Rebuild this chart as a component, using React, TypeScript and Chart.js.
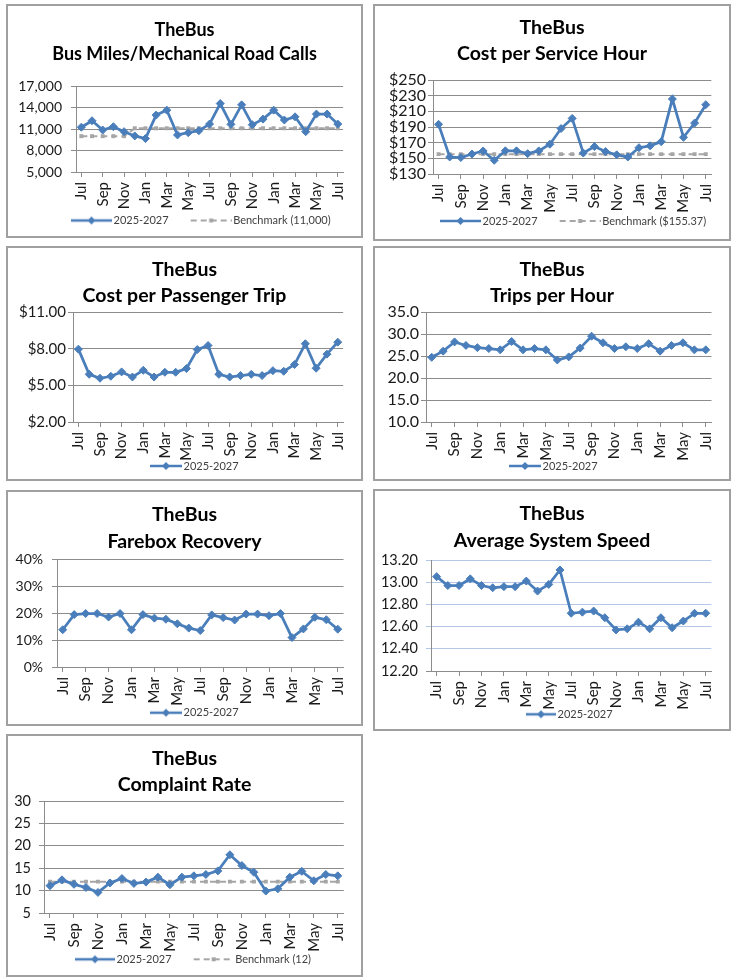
import React, { useEffect, useRef } from "react";
import { Chart, registerables } from "chart.js";

Chart.register(...registerables);

// ── Data ──────────────────────────────────────────────────────
const months = [
  "Jul", "Aug", "Sep", "Oct", "Nov", "Dec", "Jan", "Feb", "Mar", "Apr", "May", "Jun",
  "Jul", "Aug", "Sep", "Oct", "Nov", "Dec", "Jan", "Feb", "Mar", "Apr", "May", "Jun", "Jul",
];

const busMiles = [
  11250, 12150, 10860, 11320, 10630, 10030, 9660, 12940, 13630, 10170, 10490, 10770,
  11690, 14550, 11650, 14370, 11600, 12380, 13630, 12250, 12700, 10630, 13080, 13080, 11690,
];
const busMilesBenchmark = [
  10000, 10000, 10000, 10000, 10000, 11100, 11100, 11100, 11100, 11100, 11100, 11100,
  11100, 11100, 11100, 11100, 11100, 11100, 11100, 11100, 11100, 11100, 11100, 11100, 11100,
];
const busMilesTicks = [5000, 8000, 11000, 14000, 17000];

const costPerHour = [
  193.4, 151.7, 151, 155.5, 159.4, 147.5, 159.6, 159.6, 156, 159.5, 168, 188,
  201, 156.8, 165, 158.7, 154.5, 151.7, 163.6, 166, 171.3, 225.7, 176.8, 195, 218.5,
];
const costPerHourBenchmark = [
  155.37, 155.37, 155.37, 155.37, 155.37, 155.37, 155.37, 155.37, 155.37, 155.37, 155.37, 155.37,
  155.37, 155.37, 155.37, 155.37, 155.37, 155.37, 155.37, 155.37, 155.37, 155.37, 155.37, 155.37, 155.37,
];
const costPerHourTicks = [130, 150, 170, 190, 210, 230, 250];

const costPerTrip = [
  7.96, 5.9, 5.58, 5.74, 6.1, 5.68, 6.23, 5.68, 6.07, 6.07, 6.37, 7.93,
  8.26, 5.9, 5.68, 5.8, 5.9, 5.8, 6.2, 6.15, 6.7, 8.4, 6.4, 7.55, 8.53,
];
const costPerTripTicks = [2, 5, 8, 11];

const tripsPerHour = [
  24.7, 26.1, 28.2, 27.4, 26.9, 26.7, 26.4, 28.3, 26.4, 26.7, 26.4, 24.1,
  24.8, 26.8, 29.5, 28.0, 26.7, 27.1, 26.7, 27.8, 26.1, 27.4, 28.0, 26.4, 26.4,
];
const tripsPerHourTicks = [10, 15, 20, 25, 30, 35];

const fareboxRecovery = [
  13.8, 19.4, 19.8, 19.8, 18.5, 19.8, 13.8, 19.4, 18.1, 17.7, 16.0, 14.4,
  13.5, 19.3, 18.3, 17.4, 19.6, 19.6, 19.0, 19.8, 10.9, 14.1, 18.4, 17.5, 14.0,
];
const fareboxTicks = [0, 10, 20, 30, 40];

const avgSpeed = [
  13.05, 12.97, 12.97, 13.03, 12.97, 12.95, 12.96, 12.96, 13.01, 12.92, 12.98, 13.11,
  12.72, 12.73, 12.74, 12.68, 12.57, 12.58, 12.64, 12.58, 12.68, 12.59, 12.65, 12.72, 12.72,
];
const avgSpeedTicks = [12.2, 12.4, 12.6, 12.8, 13.0, 13.2];

const complaintRate = [
  11.1, 12.4, 11.4, 10.7, 9.6, 11.7, 12.7, 11.6, 11.9, 13.0, 11.3, 13.0,
  13.3, 13.6, 14.4, 18.0, 15.6, 14.1, 9.9, 10.4, 13.0, 14.3, 12.2, 13.6, 13.3,
];
const complaintBenchmark = [
  12, 12, 12, 12, 12, 12, 12, 12, 12, 12, 12, 12,
  12, 12, 12, 12, 12, 12, 12, 12, 12, 12, 12, 12, 12,
];
const complaintTicks = [5, 10, 15, 20, 25, 30];

// ── Style ─────────────────────────────────────────────────────
const LINE_BLUE = "#4a7ebb";
const BENCH_GRAY = "#a6a6a6";
const GRID_GRAY = "#8c8c8c";
const GRID_BLUE = "#b4c7e7";
const FONT = "Lato, 'Open Sans', sans-serif";
const LEGEND_SIZE = 11;
const LEGEND_PAD = 0;
const ICON_MARGIN = 22;

interface PanelSpec {
  subtitle: string;
  box: number[];   // left, top, right, bottom on the page
  plot: number[];  // left, top, right, bottom inside the canvas
  titleSize: number;
  titleBase: number;
  titleGap: number;
  legendY: number;
  legendX: number;
  tickSize: number;
  tickPad: number;
  yTicks: number[];
  fmt: (v: number) => string;
  series: number[];
  benchmark?: number[];
  benchLabel?: string;
  blueGrid?: boolean;
  iconLen: number;
}

const money0 = (v: number) => "$" + v.toFixed(0);
const money2 = (v: number) => "$" + v.toFixed(2);

const panels: PanelSpec[] = [
  {
    subtitle: "Bus Miles/Mechanical Road Calls",
    box: [6, 4, 363, 238], plot: [68, 80, 342, 166],
    titleSize: 18, titleBase: 31.5, titleGap: 24, legendY: 214.5, legendX: 63, tickSize: 14, tickPad: 9,
    yTicks: busMilesTicks, fmt: (v) => v.toLocaleString("en-US"),
    series: busMiles, benchmark: busMilesBenchmark, benchLabel: "Benchmark (11,000)", iconLen: 41,
  },
  {
    subtitle: "Cost per Service Hour",
    box: [373, 4, 731, 241], plot: [58, 74, 342, 168],
    titleSize: 19.5, titleBase: 29, titleGap: 26, legendY: 215, legendX: 65, tickSize: 16, tickPad: 2,
    yTicks: costPerHourTicks, fmt: money0,
    series: costPerHour, benchmark: costPerHourBenchmark, benchLabel: "Benchmark ($155.37)", iconLen: 41,
  },
  {
    subtitle: "Cost per Passenger Trip",
    box: [6, 246, 363, 481], plot: [65, 64, 340, 174],
    titleSize: 19.5, titleBase: 29, titleGap: 26, legendY: 218, legendX: 142, tickSize: 15, tickPad: 2,
    yTicks: costPerTripTicks, fmt: money2,
    series: costPerTrip, iconLen: 32,
  },
  {
    subtitle: "Trips per Hour",
    box: [373, 246, 731, 481], plot: [51, 64, 343, 174],
    titleSize: 19.5, titleBase: 29, titleGap: 26, legendY: 218, legendX: 134, tickSize: 16, tickPad: 2,
    yTicks: tripsPerHourTicks, fmt: (v) => v.toFixed(1),
    series: tripsPerHour, iconLen: 32,
  },
  {
    subtitle: "Farebox Recovery",
    box: [6, 490, 363, 726], plot: [49, 67, 342, 175],
    titleSize: 19.5, titleBase: 30.5, titleGap: 27, legendY: 220.7, legendX: 142, tickSize: 14, tickPad: 9,
    yTicks: fareboxTicks, fmt: (v) => v.toFixed(0) + "%",
    series: fareboxRecovery, iconLen: 32,
  },
  {
    subtitle: "Average System Speed",
    box: [373, 489, 731, 731], plot: [56, 69, 342, 180],
    titleSize: 19.5, titleBase: 30.2, titleGap: 27, legendY: 223.3, legendX: 151, tickSize: 14.5, tickPad: 8,
    yTicks: avgSpeedTicks, fmt: (v) => v.toFixed(2),
    series: avgSpeed, blueGrid: true, iconLen: 30,
  },
  {
    subtitle: "Complaint Rate",
    box: [6, 734, 363, 977], plot: [36, 65, 342, 177],
    titleSize: 19.5, titleBase: 29.8, titleGap: 26.7, legendY: 223.3, legendX: 67, tickSize: 14.5, tickPad: 8,
    yTicks: complaintTicks, fmt: (v) => v.toFixed(0),
    series: complaintRate, benchmark: complaintBenchmark, benchLabel: "Benchmark (12)", iconLen: 40,
  },
];

// ── Legend icon (line + marker) ───────────────────────────────
function legendIcon(kind: "series" | "bench", lineLen: number): HTMLCanvasElement {
  const boxW = ICON_MARGIN + lineLen - 4;
  const c = document.createElement("canvas");
  c.width = boxW + 8;
  c.height = 10;
  const ctx = c.getContext("2d")!;
  const x0 = ICON_MARGIN + 4, x1 = c.width, cy = 5;
  const cx = (x0 + x1) / 2;
  const color = kind === "series" ? LINE_BLUE : BENCH_GRAY;
  ctx.strokeStyle = color;
  ctx.fillStyle = color;
  ctx.lineWidth = kind === "series" ? 2.5 : 2;
  if (kind === "bench") ctx.setLineDash([6, 4]);
  ctx.beginPath();
  ctx.moveTo(x0, cy);
  ctx.lineTo(x1, cy);
  ctx.stroke();
  ctx.setLineDash([]);
  ctx.beginPath();
  if (kind === "series") {
    ctx.moveTo(cx, cy - 4);
    ctx.lineTo(cx + 4, cy);
    ctx.lineTo(cx, cy + 4);
    ctx.lineTo(cx - 4, cy);
    ctx.closePath();
  } else {
    ctx.rect(cx - 2, cy - 2, 4, 4);
  }
  ctx.fill();
  return c;
}

function buildConfig(s: PanelSpec): any {
  const W = s.box[2] - s.box[0] - 4;
  const H = s.box[3] - s.box[1] - 4;
  const [pl, pt, pr, pb] = s.plot;
  const lh = s.titleGap;
  const titleTop = s.titleBase - 0.387 * s.titleSize - lh / 2;
  const titleBottom = pt - titleTop - 2 * lh;
  const legendTop = s.legendY - LEGEND_PAD - LEGEND_SIZE / 2;
  const layoutBottom = H - (s.legendY + LEGEND_SIZE / 2 + 10);
  const padRight = W - pr;

  const icons = [legendIcon("series", s.iconLen)];
  const datasets: any[] = [
    {
      label: "2025-2027",
      data: s.series,
      borderColor: LINE_BLUE,
      backgroundColor: LINE_BLUE,
      borderWidth: 2.75,
      tension: 0,
      pointStyle: "rectRot",
      pointRadius: 4,
      pointBorderWidth: 1,
      pointBackgroundColor: LINE_BLUE,
      pointBorderColor: LINE_BLUE,
    },
  ];
  if (s.benchmark) {
    icons.push(legendIcon("bench", s.iconLen));
    datasets.push({
      label: s.benchLabel,
      data: s.benchmark,
      borderColor: BENCH_GRAY,
      backgroundColor: BENCH_GRAY,
      borderWidth: 2,
      borderDash: [6, 4],
      tension: 0,
      pointStyle: "rect",
      pointRadius: 2.8,
      pointBorderWidth: 0,
      pointBackgroundColor: BENCH_GRAY,
    });
  }

  // centre the title on the panel and put the legend where the reference has it
  const nudge = {
    id: "nudge",
    afterLayout(chart: any) {
      const t = chart.titleBlock;
      if (t) {
        t.left += padRight / 2;
        t.right += padRight / 2;
      }
      const lg = chart.legend;
      if (lg) {
        const dx = s.legendX - (lg.left + LEGEND_PAD + ICON_MARGIN);
        lg.left += dx;
        lg.right += dx;
      }
    },
  };

  return {
    type: "line",
    data: { labels: months, datasets },
    plugins: [nudge],
    options: {
      responsive: false,
      maintainAspectRatio: false,
      animation: false,
      events: [],
      layout: { padding: { left: 0, top: 0, right: padRight, bottom: layoutBottom } },
      plugins: {
        tooltip: { enabled: false },
        title: {
          display: true,
          text: ["TheBus", s.subtitle],
          color: "#000",
          font: { family: FONT, size: s.titleSize, weight: "bold", lineHeight: lh / s.titleSize },
          padding: { top: titleTop, bottom: titleBottom },
        },
        legend: {
          display: true,
          position: "bottom",
          align: "start",
          labels: {
            color: "#404040",
            font: { family: FONT, size: LEGEND_SIZE },
            usePointStyle: true,
            pointStyleWidth: ICON_MARGIN + s.iconLen - 4,
            padding: LEGEND_PAD,
            generateLabels: (chart: any) => {
              const items = Chart.defaults.plugins.legend.labels.generateLabels(chart);
              return items.map((it: any, i: number) => ({ ...it, pointStyle: icons[i] }));
            },
          },
        },
      },
      scales: {
        x: {
          type: "category",
          offset: true,
          afterFit: (scale: any) => { scale.height = legendTop - pb; },
          border: { display: true, color: GRID_GRAY, width: 1 },
          grid: {
            drawOnChartArea: false,
            drawTicks: true,
            tickLength: 5,
            color: (c: any) => (c.index % 2 === 0 ? GRID_GRAY : "rgba(0,0,0,0)"),
          },
          ticks: {
            autoSkip: false,
            maxRotation: 90,
            minRotation: 90,
            padding: 5,
            color: "#1a1a1a",
            font: { family: FONT, size: 15 },
            callback: (_v: any, i: number) => (i % 2 === 0 ? months[i] : ""),
          },
        },
        y: {
          min: s.yTicks[0],
          max: s.yTicks[s.yTicks.length - 1],
          afterFit: (scale: any) => { scale.width = pl; },
          afterBuildTicks: (scale: any) => { scale.ticks = s.yTicks.map((v) => ({ value: v })); },
          border: { display: true, color: GRID_GRAY, width: 1 },
          grid: {
            drawTicks: true,
            tickLength: 5,
            lineWidth: 1,
            color: (c: any) => (s.blueGrid && c.index !== 0 ? GRID_BLUE : GRID_GRAY),
          },
          ticks: {
            autoSkip: false,
            padding: s.tickPad,
            color: "#1a1a1a",
            font: { family: FONT, size: s.tickSize },
            callback: (v: any) => s.fmt(Number(v)),
          },
        },
      },
    },
  };
}

// ── Panel ─────────────────────────────────────────────────────
const Panel: React.FC<{ spec: PanelSpec }> = ({ spec }) => {
  const canvasRef = useRef<HTMLCanvasElement>(null);

  useEffect(() => {
    if (!canvasRef.current) return;
    const chart = new Chart(canvasRef.current, buildConfig(spec));
    return () => chart.destroy();
  }, [spec]);

  const [l, t, r, b] = spec.box;
  return (
    <div
      style={{
        position: "absolute",
        left: l,
        top: t,
        width: r - l,
        height: b - t,
        boxSizing: "border-box",
        border: "2px solid #a0a0a0",
        background: "#fff",
      }}
    >
      <canvas ref={canvasRef} width={r - l - 4} height={b - t - 4} style={{ display: "block" }} />
    </div>
  );
};

export default function App() {
  return (
    <div style={{ position: "absolute", left: 0, top: 0, width: 739, height: 980, background: "#fff" }}>
      {panels.map((p) => (
        <Panel key={p.subtitle} spec={p} />
      ))}
    </div>
  );
}
